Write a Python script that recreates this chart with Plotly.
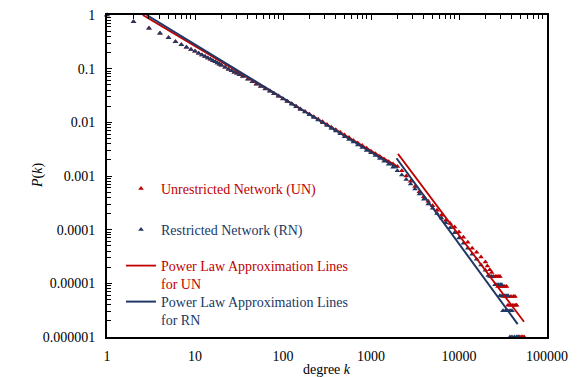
import plotly.graph_objects as go

# ---------------- data ----------------
un_k = [1, 2, 3, 4, 5, 6, 7, 8, 9, 10, 11, 12, 13, 14, 15, 16, 17, 18, 19, 20,
        22, 24, 26, 28, 30, 32, 35, 40, 45, 50, 56, 63, 71, 79, 89, 100, 112, 126,
        141, 158, 178, 200, 224, 251, 282, 316, 355, 398, 447, 501, 562, 631, 708,
        794, 891, 1000, 1122, 1259, 1413, 1585, 1778, 1995, 2239, 2512, 2818, 3162,
        3548, 3981, 4467, 5012, 5623, 6310, 7079, 7943, 8913, 10000, 11220, 12589,
        14125, 15849, 17783, 19953, 21000, 22400, 23500,
        24500, 25800, 27000, 28300, 29200,
        27700, 29500, 31500, 33200, 34700,
        31600, 34000, 36500, 39000, 41500, 43300,
        36000, 38500, 41000, 43500, 45200,
        47000, 49000, 51000, 53000, 55000]
un_p = [1, 0.75, 0.565, 0.456, 0.378, 0.318, 0.28, 0.25, 0.228, 0.21, 0.194, 0.18,
        0.168, 0.158, 0.149, 0.141, 0.134, 0.127, 0.121, 0.116, 0.106, 0.098, 0.091,
        0.086, 0.082, 0.077, 0.072, 0.064, 0.0575, 0.052, 0.047, 0.0425, 0.0383,
        0.0346, 0.031, 0.0276, 0.0248, 0.0222, 0.0199, 0.0178, 0.0159, 0.0142,
        0.0127, 0.0114, 0.0102, 0.0091, 0.0081, 0.0073, 0.0065, 0.0058, 0.0052,
        0.0046, 0.0041, 0.0037, 0.0033, 0.0029, 0.0026, 0.0023, 0.00205, 0.00184,
        0.00168, 0.0015, 0.00125, 0.001, 0.0008, 0.00064, 0.00051, 0.00041, 0.00034,
        0.00028, 0.00023, 0.000185, 0.00015, 0.00013, 0.000112, 0.00009, 0.000072,
        0.000058, 0.000045, 0.000038, 0.000031, 0.000025, 0.000021, 0.000018,
        0.000016,
        1.34e-5, 1.34e-5, 1.34e-5, 1.34e-5, 1.34e-5,
        8.7e-6, 8.7e-6, 8.7e-6, 8.7e-6, 8.7e-6,
        5.7e-6, 5.7e-6, 5.7e-6, 5.7e-6, 5.7e-6, 5.7e-6,
        3.9e-6, 3.9e-6, 3.9e-6, 3.9e-6, 3.9e-6,
        1e-6, 1e-6, 1e-6, 1e-6, 1e-6]

rn_k = [1, 2, 3, 4, 5, 6, 7, 8, 9, 10, 11, 12, 13, 14, 15, 16, 17, 18, 19, 20,
        22, 24, 26, 28, 30, 32, 35, 40, 45, 50, 56, 63, 71, 79, 89, 100, 112, 126,
        141, 158, 178, 200, 224, 251, 282, 316, 355, 398, 447, 501, 562, 631, 708,
        794, 891, 1000, 1122, 1259, 1413, 1585, 1778, 1995, 2239, 2512, 2818, 3162,
        3548, 3981, 4467, 5012, 5623, 6310, 7079, 7943, 8913, 10000, 11220, 12589,
        14125, 15849, 17783, 19953, 21500, 22500, 23500,
        25700, 27000, 28300, 29500, 30600,
        29200, 31000, 32700, 34300, 36000,
        31600, 33700, 35800, 38000, 40000,
        38000, 40000, 42500, 45000, 47000]
rn_p = [1, 0.75, 0.565, 0.456, 0.378, 0.318, 0.28, 0.25, 0.228, 0.21, 0.194, 0.18,
        0.168, 0.158, 0.149, 0.141, 0.134, 0.127, 0.121, 0.116, 0.106, 0.098, 0.091,
        0.086, 0.082, 0.077, 0.0715, 0.0635, 0.057, 0.0515, 0.0466, 0.042, 0.0378,
        0.0342, 0.0306, 0.0272, 0.0244, 0.0218, 0.0195, 0.0174, 0.0155, 0.0138,
        0.0123, 0.011, 0.0098, 0.0087, 0.0077, 0.0069, 0.0061, 0.0054, 0.0048,
        0.0043, 0.0038, 0.0034, 0.003, 0.0027, 0.0024, 0.00212, 0.00188, 0.00165,
        0.00145, 0.00125, 0.00104, 0.00086, 0.00071, 0.00057, 0.00046, 0.00037,
        0.0003, 0.00025, 0.0002, 0.000165, 0.000135, 0.000108, 0.000088, 0.00007,
        0.000056, 0.000045, 0.000035, 0.000028, 0.000022, 0.0000175, 0.000014,
        0.0000134, 0.0000134,
        9.4e-6, 9.4e-6, 9.4e-6, 9.4e-6, 9.4e-6,
        5.9e-6, 5.9e-6, 5.9e-6, 5.9e-6, 5.9e-6,
        3.1e-6, 3.1e-6, 3.1e-6, 3.1e-6, 3.1e-6,
        1e-6, 1e-6, 1e-6, 1e-6, 1e-6]

# power-law approximation lines (two segments each)
un_fit_k = [2.55, 2000, None, 2027, 54800]
un_fit_p = [1, 0.0015, None, 0.00258, 1.92e-6]
rn_fit_k = [2.82, 2000, None, 1950, 46400]
rn_fit_p = [1, 0.00141, None, 0.00214, 1.74e-6]

x_tick_vals = [1, 10, 100, 1000, 10000, 100000]
x_tick_text = ["1", "10", "100", "1000", "10000", "100000"]
y_tick_vals = [1, 0.1, 0.01, 0.001, 0.0001, 0.00001, 0.000001]
y_tick_text = ["1", "0.1", "0.01", "0.001", "0.0001", "0.00001", "0.000001"]

names = ["Unrestricted Network (UN)", "Restricted Network (RN)",
         "Power Law Approximation Lines<br>for UN",
         "Power Law Approximation Lines<br>for RN"]

# ---------------- style ----------------
RED = "#C00000"
BLUE = "#203864"
FONT = "Liberation Serif"

# page has an 8px body margin; figure sized so the plot area lands at
# page x 107..547, y 15..337
OFF = 8
W, H = 579 - OFF, 377 - OFF
L, R, T, B = 107 - OFF, 32, 15 - OFF, 40
PW = W - L - R
PH = H - T - B


def ypaper(py):
    # py: page pixel y
    return (337 - py) / PH


def xpaper(px):
    return (px - 107) / PW


x_minor = [m * 10 ** d for d in range(0, 5) for m in range(2, 10)]
y_minor = [m * 10 ** d for d in range(-6, 0) for m in range(2, 10)]

fig = go.Figure()
fig.add_trace(go.Scatter(x=un_k, y=un_p, mode="markers", name=names[0],
                         marker=dict(symbol="triangle-up", size=5, color=RED),
                         cliponaxis=False, legend="legend"))
fig.add_trace(go.Scatter(x=rn_k, y=rn_p, mode="markers", name=names[1],
                         marker=dict(symbol="triangle-up", size=5, color=BLUE),
                         cliponaxis=False, legend="legend2"))
fig.add_trace(go.Scatter(x=un_fit_k, y=un_fit_p, mode="lines", name=names[2],
                         line=dict(color=RED, width=1.8), xaxis="x2",
                         legend="legend3"))
fig.add_trace(go.Scatter(x=rn_fit_k, y=rn_fit_p, mode="lines", name=names[3],
                         line=dict(color=BLUE, width=2), xaxis="x2",
                         legend="legend4"))

tickfont = dict(family=FONT, size=14, color="#000000")


def leg(py, color):
    return dict(x=xpaper(121), xanchor="left", y=ypaper(py),
                yanchor="top", valign="top", bgcolor="rgba(0,0,0,0)",
                font=dict(family=FONT, size=14, color=color), itemwidth=30)


fig.update_layout(
    width=W, height=H,
    margin=dict(l=L, r=R, t=T, b=B, autoexpand=False),
    paper_bgcolor="white", plot_bgcolor="white",
    showlegend=True,
    legend=leg(173, RED),
    legend2=leg(214, BLUE),
    legend3=leg(250, RED),
    legend4=leg(286, BLUE),
    xaxis=dict(type="log", range=[0, 5], tickmode="array",
               tickvals=x_tick_vals, ticktext=x_tick_text, ticks="",
               showgrid=False, zeroline=False, showline=True, mirror=True,
               linecolor="black", linewidth=2, tickfont=tickfont,
               ticklabelstandoff=5, ticklabeloverflow="allow"),
    xaxis2=dict(type="log", range=[0, 5], overlaying="x", side="top",
                matches="x", showticklabels=False, tickmode="array",
                tickvals=x_tick_vals, ticks="inside", ticklen=5,
                tickcolor="black", showgrid=False, zeroline=False,
                showline=False,
                minor=dict(tickmode="array", tickvals=x_minor, ticks="inside",
                           ticklen=4, tickcolor="black", showgrid=False)),
    yaxis=dict(type="log", range=[-6, 0], tickmode="array",
               tickvals=y_tick_vals, ticktext=y_tick_text, ticks="inside",
               ticklen=5, tickcolor="black", showgrid=False, zeroline=False,
               showline=True, mirror=True, linecolor="black", linewidth=2,
               tickfont=tickfont, ticklabelstandoff=7,
               ticklabeloverflow="allow",
               minor=dict(tickmode="array", tickvals=y_minor, ticks="inside",
                          ticklen=4, tickcolor="black", showgrid=False)),
    annotations=[
        dict(text="<i>P</i>(<i>k</i>)", x=xpaper(38), xref="paper", y=0.5,
             yref="paper", showarrow=False, textangle=-90,
             font=dict(family=FONT, size=14, color="#000000"),
             xanchor="center", yanchor="middle"),
        dict(text="degree <i>k</i>", x=0.5, xref="paper", y=ypaper(369),
             yref="paper", showarrow=False,
             font=dict(family=FONT, size=14, color="#000000"),
             xanchor="center", yanchor="middle"),
    ],
)

fig.write_html("out.html")
